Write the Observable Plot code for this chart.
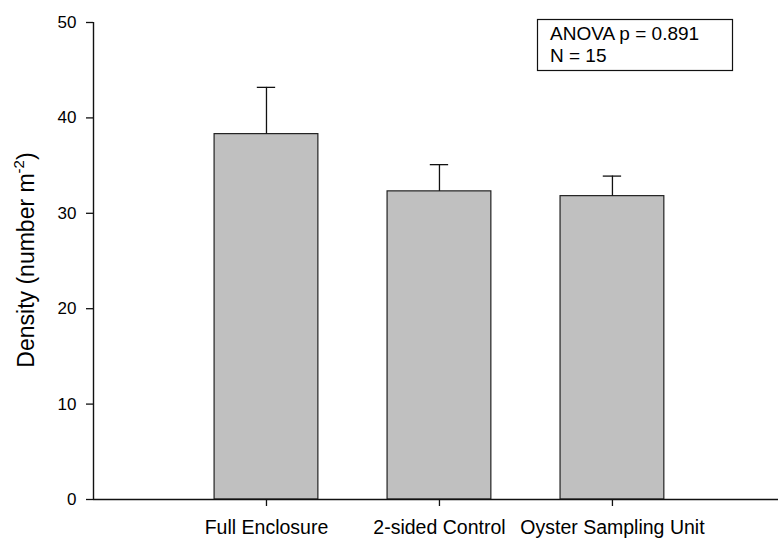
<!DOCTYPE html>
<html>
<head>
<meta charset="utf-8">
<script src="https://cdn.jsdelivr.net/npm/d3@7"></script>
<script src="https://cdn.jsdelivr.net/npm/@observablehq/plot@0.6"></script>
<style>
  html, body { margin: 0; padding: 0; background: white; }
  #chart { width: 778px; height: 538px; }
</style>
</head>
<body>
<div id="chart"></div>
<script>
// ---- data ----
const categories = ["Full Enclosure", "2-sided Control", "Oyster Sampling Unit"];
const positions = [1, 2, 3];
const means = [38.3, 32.3, 31.8];
const stdErrors = [4.9, 2.8, 2.1];
const yTicks = [0, 10, 20, 30, 40, 50];
const annotationLines = ["ANOVA p = 0.891", "N = 15"];
const yLabelMain = "Density (number m";
const yLabelSup = "-2";
const yLabelEnd = ")";

const data = categories.map((c, i) => ({
  category: c, pos: positions[i], mean: means[i], se: stdErrors[i]
}));

const FONT = "'Liberation Sans', Arial, Helvetica, sans-serif";

const chart = Plot.plot({
  width: 778,
  height: 538,
  marginLeft: 93,
  marginRight: 0,
  marginTop: 22,
  marginBottom: 39,
  style: { fontFamily: FONT, fontSize: "17px", color: "black", background: "white" },
  x: { domain: [0, 3.96], axis: null },
  y: { domain: [0, 50], axis: null },
  marks: [
    Plot.rectY(data, {
      x1: d => d.pos - 0.3, x2: d => d.pos + 0.3, y1: 0, y2: "mean",
      fill: "#c0c0c0", stroke: "#222", strokeWidth: 1.2
    }),
    Plot.ruleX(data, {
      x: "pos", y1: "mean", y2: d => d.mean + d.se, stroke: "#111", strokeWidth: 1.3
    }),
    Plot.ruleY(data, {
      x1: d => d.pos - 0.053, x2: d => d.pos + 0.053, y: d => d.mean + d.se,
      stroke: "#111", strokeWidth: 1.3
    }),
    Plot.ruleX([0], { stroke: "#111", strokeWidth: 1.4 }),
    Plot.ruleY([0], { stroke: "#111", strokeWidth: 1.6 }),
    Plot.axisY({
      ticks: yTicks, tickSize: 7, tickPadding: 10, label: null,
      stroke: "#111", strokeWidth: 1.3, fontSize: 17, fill: "black"
    }),
    Plot.axisX({
      ticks: positions, tickFormat: p => categories[p - 1], tickSize: 7,
      tickPadding: 14, label: null, stroke: "#111", strokeWidth: 1.3,
      fontSize: 19.5, fill: "black"
    })
  ]
});

document.getElementById("chart").appendChild(chart);

const svg = d3.select(chart);

// y-axis title with superscript
const yt = svg.append("text")
  .attr("transform", "translate(34,260) rotate(-90)")
  .attr("text-anchor", "middle")
  .attr("font-family", FONT)
  .attr("font-size", 23)
  .attr("fill", "black");
yt.append("tspan").text(yLabelMain);
yt.append("tspan").attr("font-size", 15).attr("dy", -10).text(yLabelSup);
yt.append("tspan").attr("dy", 10).text(yLabelEnd);

// annotation box
const g = svg.append("g");
g.append("rect")
  .attr("x", 537.5).attr("y", 19.5).attr("width", 195).attr("height", 51)
  .attr("fill", "white").attr("stroke", "#111").attr("stroke-width", 1.2);
annotationLines.forEach((t, i) => {
  g.append("text")
    .attr("x", 550).attr("y", 40 + i * 22)
    .attr("text-anchor", "start")
    .attr("font-family", FONT).attr("font-size", 19).attr("fill", "black")
    .text(t);
});
</script>
</body>
</html>
